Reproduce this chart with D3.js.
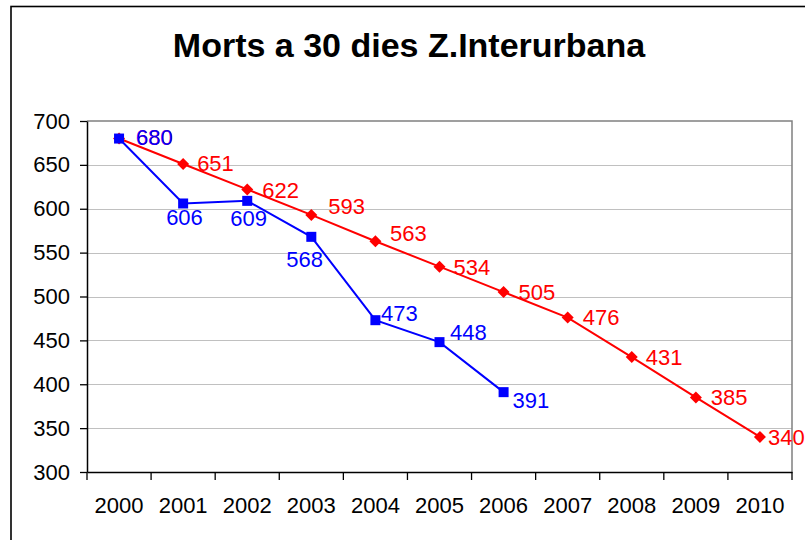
<!DOCTYPE html>
<html>
<head>
<meta charset="utf-8">
<script src="https://cdn.jsdelivr.net/npm/d3@7/dist/d3.min.js"></script>
<style>
  html, body { margin: 0; padding: 0; background: #fff; }
  svg { display: block; font-family: "Liberation Sans", Arial, sans-serif; }
</style>
</head>
<body>
<svg id="chart" width="805" height="540"></svg>
<script>
// ---- data ----
const titleText = "Morts a 30 dies Z.Interurbana";
const years = ["2000","2001","2002","2003","2004","2005","2006","2007","2008","2009","2010"];
const redValues = [680, 651, 622, 593, 563, 534, 505, 476, 431, 385, 340];
const blueValues = [680, 606, 609, 568, 473, 448, 391];
const yTicks = [300, 350, 400, 450, 500, 550, 600, 650, 700];

// ---- label placement (styling) ----
const redLabelOffsets = [[17,-1],[14,-1],[15,1],[17,-9],[14.5,-8],[14,0],[15,0],[15,0],[14,0],[15,0],[8,0]];
const blueLabelOffsets = [[17,-1],[-17,13.5],[-17,17],[-25,22],[5.5,-7],[10.5,-10],[9,8]];

(function () {
const svg = d3.select("#chart");
const fontSize = 22;
const pLeft = 87, pRight = 792, pTop = 121, pBottom = 472;

// outer chart frame
svg.append("rect").attr("x", 11).attr("y", 6.5).attr("width", 820).attr("height", 560)
  .attr("fill", "none").attr("stroke", "#000").attr("stroke-width", 1.6);

// title
svg.append("text").attr("x", 409).attr("y", 57).attr("text-anchor", "middle")
  .attr("font-size", 34).attr("font-weight", "bold").attr("fill", "#000").text(titleText);

const x = d3.scaleBand().domain(years).range([pLeft, pRight]).padding(0);
const y = d3.scaleLinear().domain([300, 700]).range([pBottom, pTop]);
const cx = d => x(d) + x.bandwidth() / 2;

// gridlines
svg.append("g").selectAll("line").data(yTicks.filter(t => t !== 300 && t !== 700)).join("line")
  .attr("x1", pLeft).attr("x2", pRight)
  .attr("y1", d => Math.round(y(d)) + 0.5).attr("y2", d => Math.round(y(d)) + 0.5)
  .attr("stroke", "#c0c0c0").attr("stroke-width", 1);

// plot border top/right (gray)
svg.append("path")
  .attr("d", `M${pLeft},${pTop}H${pRight}V${pBottom}`)
  .attr("fill", "none").attr("stroke", "#808080").attr("stroke-width", 1.5);

// y axis
const yAxis = svg.append("g").attr("transform", `translate(${pLeft},0)`)
  .call(d3.axisLeft(y).tickValues(yTicks).tickSize(7).tickPadding(10).tickSizeOuter(0));
yAxis.select(".domain").attr("stroke", "#000").attr("stroke-width", 1.5);
yAxis.selectAll(".tick line").attr("stroke", "#000").attr("stroke-width", 1.3);
yAxis.selectAll("text").attr("font-size", fontSize).attr("fill", "#000")
  .attr("font-family", "Liberation Sans, Arial, sans-serif");

// x axis (labels at centres, ticks at boundaries)
const xAxis = svg.append("g").attr("transform", `translate(0,${pBottom})`)
  .call(d3.axisBottom(x).tickSize(0).tickPadding(25).tickSizeOuter(0));
xAxis.select(".domain").attr("stroke", "#000").attr("stroke-width", 1.5);
xAxis.selectAll("text").attr("font-size", fontSize).attr("fill", "#000")
  .attr("font-family", "Liberation Sans, Arial, sans-serif");
const boundaries = years.map(d => x(d)).concat([x(years[years.length - 1]) + x.bandwidth()]);
svg.append("g").selectAll("line").data(boundaries).join("line")
  .attr("x1", d => d).attr("x2", d => d).attr("y1", pBottom).attr("y2", pBottom + 8)
  .attr("stroke", "#000").attr("stroke-width", 1.3);

// series
function drawSeries(values, color, marker) {
  const pts = values.map((v, i) => ({ x: cx(years[i]), y: y(v), v, i }));
  svg.append("path").datum(pts)
    .attr("d", d3.line().x(d => d.x).y(d => d.y))
    .attr("fill", "none").attr("stroke", color).attr("stroke-width", 2);
  const g = svg.append("g");
  if (marker === "square") {
    g.selectAll("rect").data(pts).join("rect")
      .attr("x", d => d.x - 5).attr("y", d => d.y - 5).attr("width", 10).attr("height", 10)
      .attr("fill", color);
  } else {
    g.selectAll("path").data(pts).join("path")
      .attr("d", d => `M${d.x},${d.y - 6}L${d.x + 6},${d.y}L${d.x},${d.y + 6}L${d.x - 6},${d.y}Z`)
      .attr("fill", color);
  }
  return pts;
}
function drawLabels(pts, color, offsets) {
  svg.append("g").selectAll("text").data(pts).join("text")
    .attr("x", d => d.x + offsets[d.i][0])
    .attr("y", d => d.y + offsets[d.i][1])
    .attr("dy", "0.36em")
    .attr("font-size", fontSize).attr("fill", color)
    .text(d => d.v);
}
const redPts = drawSeries(redValues, "#ff0000", "diamond");
const bluePts = drawSeries(blueValues, "#0000ff", "square");
drawLabels(redPts, "#ff0000", redLabelOffsets);
drawLabels(bluePts, "#0000ff", blueLabelOffsets);
})();
</script>
</body>
</html>
